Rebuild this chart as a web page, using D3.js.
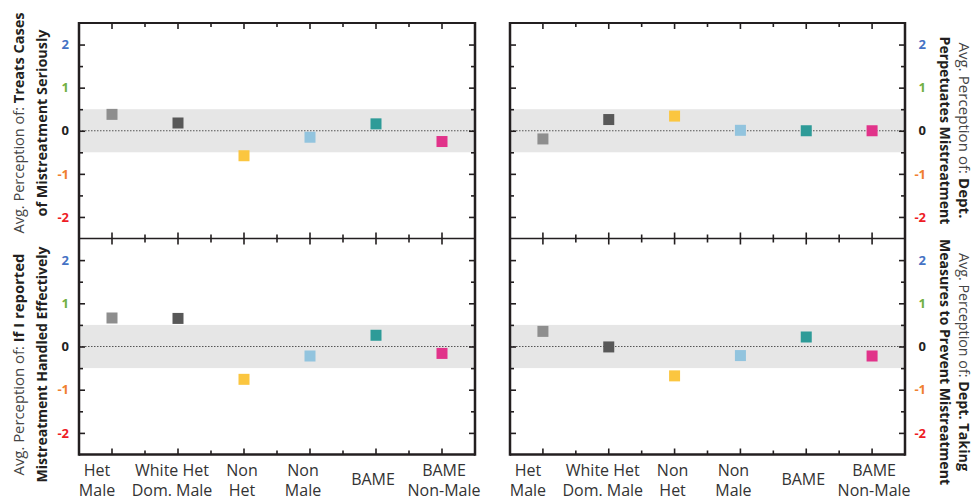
<!DOCTYPE html>
<html><head><meta charset="utf-8">
<script src="https://cdn.jsdelivr.net/npm/d3@7"></script>
<style>body{margin:0;background:#fff}svg{display:block}</style>
</head><body><svg id="c" width="976" height="502"></svg>
<script>
// ---- data ----
const categories = ["Het Male","White Het Dom. Male","Non Het","Non Male","BAME","BAME Non-Male"];
const categoryLabelLines = [["Het","Male"],["White Het","Dom. Male"],["Non","Het"],["Non","Male"],["BAME"],["BAME","Non-Male"]];
const treatsSeriously = [0.38, 0.18, -0.58, -0.15, 0.16, -0.25];
const perpetuates     = [-0.19, 0.26, 0.34, 0.01, 0.00, 0.00];
const reportedHandled = [0.66, 0.65, -0.76, -0.22, 0.26, -0.16];
const takingMeasures  = [0.35, -0.01, -0.68, -0.21, 0.22, -0.22];
const yTicks = [-2, -1, 0, 1, 2];
const yTickLabels = ["-2", "-1", "0", "1", "2"];
const yMinorTicks = [-1.5, -0.5, 0.5, 1.5];
const neutralBand = [-0.5, 0.5];

// ---- styles ----
const catColors = ["#8e8e8e", "#585858", "#fbc640", "#92c4de", "#2e9b98", "#e1338a"];
const tickLabelColors = {"-2": "#ee1c25", "-1": "#f08030", "0": "#222", "1": "#72b043", "2": "#4472c4"};
const labelShift = [-15, -6, -2, -7, -3, 2];
const frameColor = "#231f20";

const svg = d3.select("#c");
const TOP = 23, MID = 238.5, BOT = 454.5;
const LEFT = [79, 475], RIGHT = [510, 905];

const panels = [
  {vals: treatsSeriously, xr: LEFT, yr: [TOP, MID], side: "left", center: 123,
   l1: [["Avg. Perception of: ", 400], ["Treats Cases", 700]], l1len: 221,
   l2: [["of Mistreatment Seriously", 700]], l2len: 187},
  {vals: perpetuates, xr: RIGHT, yr: [TOP, MID], side: "right", center: 130.5,
   l1: [["Avg. Perception of: ", 400], ["Dept.", 700]], l1len: 176,
   l2: [["Perpetuates Mistreatment", 700]], l2len: 188},
  {vals: reportedHandled, xr: LEFT, yr: [MID, BOT], side: "left", center: 364.5,
   l1: [["Avg. Perception of: ", 400], ["If I reported", 700]], l1len: 222,
   l2: [["Mistreatment Handled Effectively", 700]], l2len: 236},
  {vals: takingMeasures, xr: RIGHT, yr: [MID, BOT], side: "right", center: 362,
   l1: [["Avg. Perception of: ", 400], ["Dept. Taking", 700]], l1len: 218,
   l2: [["Measures to Prevent Mistreatment", 700]], l2len: 246}
];

panels.forEach((p, pi) => {
  const x = d3.scaleBand().domain(categories).range(p.xr).padding(0);
  const y = d3.scaleLinear().domain([-2.5, 2.5]).range([p.yr[1], p.yr[0]]);
  const g = svg.append("g");

  // neutral band
  g.append("rect").attr("x", p.xr[0]).attr("width", p.xr[1] - p.xr[0])
    .attr("y", y(neutralBand[1])).attr("height", y(neutralBand[0]) - y(neutralBand[1]))
    .attr("fill", "#e6e6e6");
  // zero dotted line
  g.append("line").attr("x1", p.xr[0]).attr("x2", p.xr[1]).attr("y1", y(0)).attr("y2", y(0))
    .attr("stroke", "#555").attr("stroke-width", 1).attr("stroke-dasharray", "1.5,1.5");

  // points
  g.selectAll("rect.pt").data(p.vals).join("rect").attr("class", "pt")
    .attr("x", (d, i) => x(categories[i]) + x.bandwidth() / 2 - 5.5)
    .attr("y", d => y(d) - 5.5).attr("width", 11).attr("height", 11)
    .attr("fill", (d, i) => catColors[i]);

  // axes (ticks inward)
  const ax = g.append("g").attr("class", "ax");
  const majL = d3.axisRight(y).tickValues(yTicks).tickSize(6).tickFormat("");
  const minL = d3.axisRight(y).tickValues(yMinorTicks).tickSize(4).tickFormat("");
  ax.append("g").attr("transform", `translate(${p.xr[0]},0)`).call(majL);
  ax.append("g").attr("transform", `translate(${p.xr[0]},0)`).call(minL);
  const majR = d3.axisLeft(y).tickValues(yTicks).tickSize(6).tickFormat("");
  const minR = d3.axisLeft(y).tickValues(yMinorTicks).tickSize(4).tickFormat("");
  ax.append("g").attr("transform", `translate(${p.xr[1]},0)`).call(majR);
  ax.append("g").attr("transform", `translate(${p.xr[1]},0)`).call(minR);
  const xTop = d3.axisBottom(x).tickSize(6).tickFormat("");
  const xBot = d3.axisTop(x).tickSize(6).tickFormat("");
  ax.append("g").attr("transform", `translate(0,${p.yr[0]})`).call(xTop);
  ax.append("g").attr("transform", `translate(0,${p.yr[1]})`).call(xBot);
  // minor x ticks at band boundaries
  const bounds = categories.slice(1).map(c => x(c));
  ax.selectAll("line.mxt").data(bounds).join("line").attr("class", "mxt")
    .attr("x1", d => d).attr("x2", d => d).attr("y1", p.yr[0]).attr("y2", p.yr[0] + 4);
  ax.selectAll("line.mxb").data(bounds).join("line").attr("class", "mxb")
    .attr("x1", d => d).attr("x2", d => d).attr("y1", p.yr[1]).attr("y2", p.yr[1] - 4);
  ax.selectAll(".domain").remove();
  ax.selectAll("line").attr("stroke", frameColor).attr("stroke-width", 1.6);

  // y tick labels
  const lx = p.side === "left" ? 69 : 926;
  g.selectAll("text.yt").data(yTicks).join("text").attr("class", "yt")
    .attr("x", lx).attr("y", d => y(d)).attr("dy", "0.36em")
    .attr("text-anchor", "end")
    .attr("font-family", "'Open Sans', sans-serif").attr("font-weight", 700).attr("font-size", 13)
    .attr("fill", (d, i) => tickLabelColors[yTickLabels[i]])
    .text((d, i) => yTickLabels[i]);

  // titles
  const rot = p.side === "left" ? -90 : 90;
  const b1 = p.side === "left" ? 24 : 958.5;
  const b2 = p.side === "left" ? 47 : 939.5;
  [[p.l1, p.l1len, b1], [p.l2, p.l2len, b2]].forEach(([parts, len, bx]) => {
    const t = svg.append("text")
      .attr("transform", `translate(${bx},${p.center}) rotate(${rot})`)
      .attr("text-anchor", "middle")
      .attr("font-family", "'Open Sans', sans-serif").attr("font-size", 14.5)
      .attr("fill", "#231f20")
      .attr("textLength", len).attr("lengthAdjust", "spacingAndGlyphs");
    parts.forEach(([s, w]) => {
      t.append("tspan").attr("font-weight", w).attr("fill", w === 400 ? "#444" : "#231f20").text(s);
    });
  });

  // x labels on bottom panels
  if (p.yr[1] === BOT) {
    categories.forEach((c, i) => {
      const lines = categoryLabelLines[i];
      const cx = x(c) + x.bandwidth() / 2 + labelShift[i];
      const t = svg.append("text").attr("text-anchor", "middle")
        .attr("font-family", "'Open Sans', sans-serif").attr("font-size", 16).attr("fill", "#333");
      if (lines.length === 1) {
        t.append("tspan").attr("x", cx).attr("y", 485).text(lines[0]);
      } else {
        t.append("tspan").attr("x", cx).attr("y", 476).text(lines[0]);
        t.append("tspan").attr("x", cx).attr("y", 496).text(lines[1]);
      }
    });
  }
});

// frames
[LEFT, RIGHT].forEach(xr => {
  const f = svg.append("g").attr("stroke", frameColor).attr("fill", "none");
  f.append("line").attr("x1", xr[0]).attr("x2", xr[0]).attr("y1", TOP - 1).attr("y2", BOT + 1.2).attr("stroke-width", 2.5);
  f.append("line").attr("x1", xr[1]).attr("x2", xr[1]).attr("y1", TOP - 1).attr("y2", BOT + 1.2).attr("stroke-width", 2.5);
  f.append("line").attr("x1", xr[0]).attr("x2", xr[1]).attr("y1", TOP).attr("y2", TOP).attr("stroke-width", 2);
  f.append("line").attr("x1", xr[0]).attr("x2", xr[1]).attr("y1", MID).attr("y2", MID).attr("stroke-width", 1.5);
  f.append("line").attr("x1", xr[0]).attr("x2", xr[1]).attr("y1", BOT).attr("y2", BOT).attr("stroke-width", 2.5);
});
</script></body></html>
